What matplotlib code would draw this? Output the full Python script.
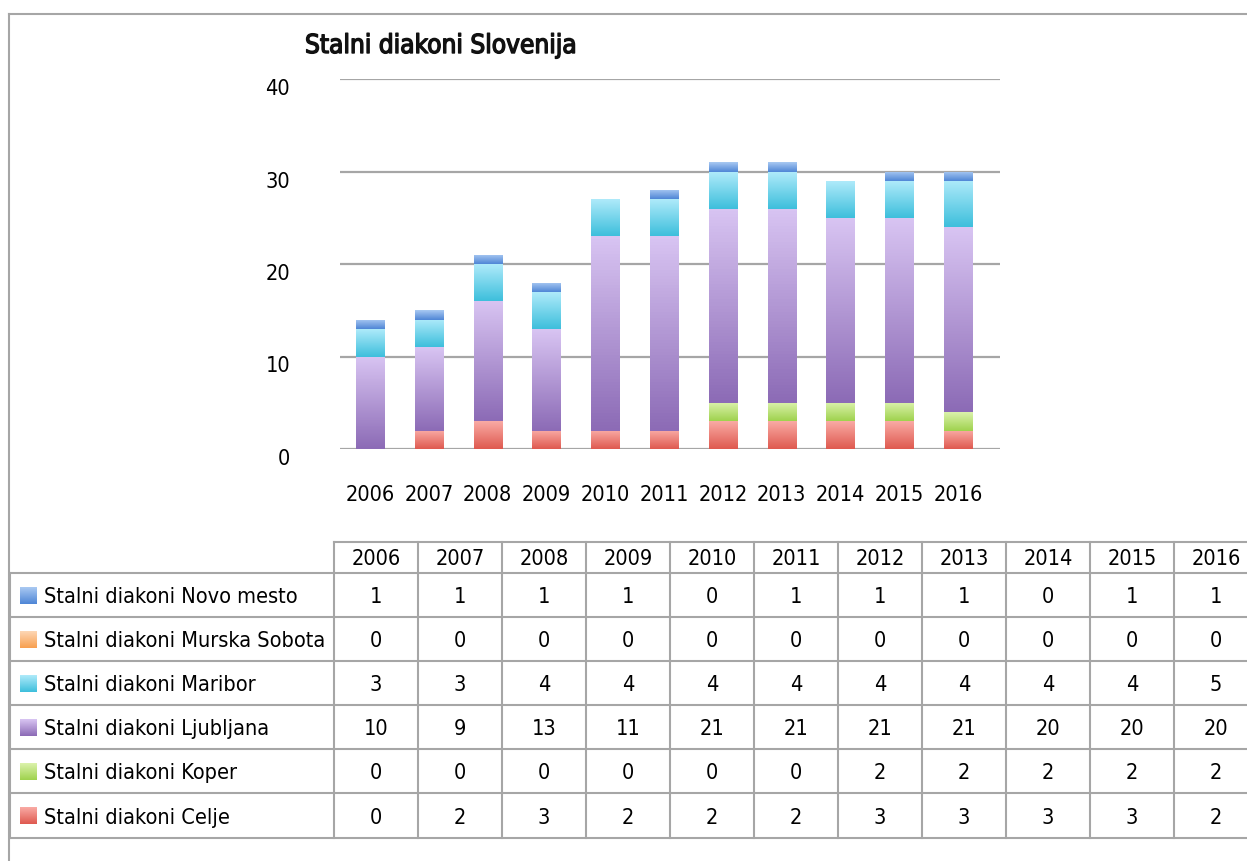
import numpy as np
import matplotlib
matplotlib.use("Agg")
import matplotlib.pyplot as plt
import matplotlib.patheffects as pe
from matplotlib import font_manager
from matplotlib.font_manager import FontProperties
from matplotlib.colors import LinearSegmentedColormap
from matplotlib.transforms import ScaledTranslation
from matplotlib.textpath import TextPath

# ---- data ----
title = "Stalni diakoni Slovenija"
years = ["2006", "2007", "2008", "2009", "2010", "2011", "2012", "2013", "2014", "2015", "2016"]
celje = [0, 2, 3, 2, 2, 2, 3, 3, 3, 3, 2]
koper = [0, 0, 0, 0, 0, 0, 2, 2, 2, 2, 2]
ljubljana = [10, 9, 13, 11, 21, 21, 21, 21, 20, 20, 20]
maribor = [3, 3, 4, 4, 4, 4, 4, 4, 4, 4, 5]
murska_sobota = [0, 0, 0, 0, 0, 0, 0, 0, 0, 0, 0]
novo_mesto = [1, 1, 1, 1, 0, 1, 1, 1, 0, 1, 1]

# stacking order bottom -> top
series_names = [
    "Stalni diakoni Celje",
    "Stalni diakoni Koper",
    "Stalni diakoni Ljubljana",
    "Stalni diakoni Maribor",
    "Stalni diakoni Murska Sobota",
    "Stalni diakoni Novo mesto",
]
series_values = [celje, koper, ljubljana, maribor, murska_sobota, novo_mesto]
# (dark bottom, light top)
series_colors = [
    ("#df5a50", "#f9aaa4"),
    ("#9fd24e", "#dbf2ab"),
    ("#8c6bb6", "#d8c4f2"),
    ("#3ebfdc", "#aeeafa"),
    ("#f8a050", "#fdd6b4"),
    ("#4f86d6", "#a9c9f2"),
]


def _weight(f):
    return f.weight if isinstance(f.weight, int) else font_manager.weight_dict.get(f.weight, 400)


def _stretch(f):
    return f.stretch if isinstance(f.stretch, int) else font_manager.stretch_dict.get(f.stretch, 500)


def _is_narrow(f):
    return _stretch(f) < 500 or "Condensed" in f.name or "Narrow" in f.name


def _pick_font(weight_target, stretch_target):
    cands = [f for f in font_manager.fontManager.ttflist
             if _is_narrow(f) and f.style == "normal" and f.fname.lower().endswith((".ttf", ".otf"))]
    if not cands:
        return None
    cands.sort(key=lambda f: abs(_weight(f) - weight_target) + abs(_stretch(f) - stretch_target))
    return cands[0].fname


reg_path = _pick_font(400, 300)


def fprop(path, size):
    if path:
        return FontProperties(fname=path, size=size)
    return FontProperties(family="DejaVu Sans", size=size)


def fit_size(path, text, width_px):
    # font size (pt) that makes text about width_px wide at 100 dpi
    tp = TextPath((0, 0), text, prop=fprop(path, 100))
    w = tp.get_extents().width * 100 / 72.0
    return 100 * width_px / w


body_size = min(fit_size(reg_path, "Stalni diakoni Murska Sobota", 278), 19)
title_size = min(fit_size(reg_path, title, 268), 22)
body = fprop(reg_path, body_size)
title_fp = fprop(reg_path, title_size)

W, H = 1247, 862
fig = plt.figure(figsize=(W / 100, H / 100), dpi=100)
fig.patch.set_facecolor("white")

# ---- chart area ----
ax = fig.add_axes([340 / W, 1 - 450 / H, 660 / W, 370 / H])
x = np.arange(len(years))
bottom = np.zeros(len(years))
for name, vals, (dark, light) in zip(series_names, series_values, series_colors):
    vals = np.array(vals, dtype=float)
    bars = ax.bar(x, vals, width=0.48, bottom=bottom, color=light, edgecolor="none", zorder=3)
    cmap = LinearSegmentedColormap.from_list(name, [dark, light])
    grad = np.linspace(0, 1, 64).reshape(-1, 1)
    for rect, v in zip(bars, vals):
        if v <= 0:
            continue
        x0, y0 = rect.get_x(), rect.get_y()
        im = ax.imshow(grad, extent=[x0, x0 + rect.get_width(), y0, y0 + rect.get_height()],
                       origin="lower", cmap=cmap, aspect="auto", zorder=4)
        im.set_clip_path(rect)
    bottom += vals

ax.set_xlim(-0.51, 10.71)
ax.set_ylim(0, 40)
ax.set_yticks([0, 10, 20, 30, 40])
ax.set_xticks(x)
ax.set_xticklabels(years)
ax.yaxis.grid(True, color="#a6a6a6", linewidth=1.6, zorder=0)
ax.set_axisbelow(True)
for s in ax.spines.values():
    s.set_visible(False)
ax.tick_params(axis="both", length=0)
ax.tick_params(axis="y", pad=36)
ax.tick_params(axis="x", pad=25)
off = ScaledTranslation(0, -0.07, fig.dpi_scale_trans)
for lab in ax.get_yticklabels():
    lab.set_fontproperties(body)
    lab.set_transform(lab.get_transform() + off)
for lab in ax.get_xticklabels():
    lab.set_fontproperties(body)

# ---- overlay in pixel coordinates: frame, title, data table ----
ov = fig.add_axes([0, 0, 1, 1], zorder=5)
ov.axis("off")
ov.patch.set_alpha(0)

line_c = "#a6a6a6"
ov.plot([9, W], [15, 15], color=line_c, lw=1.5)
ov.plot([9, 9], [15, H], color=line_c, lw=1.5)

ov.text(305, 47, title, fontproperties=title_fp, ha="left", va="center", color="#111111",
        path_effects=[pe.withStroke(linewidth=1.0, foreground="#111111")])

col0, col_w = 334, 84
head_top, head_bot, row_h = 543, 574, 44.1
n_cols = len(years)
n_rows = len(series_names)
table_bot = head_bot + n_rows * row_h

# header row
ov.plot([col0, W], [head_top, head_top], color=line_c, lw=1.5)
for i, yr in enumerate(years):
    ov.text(col0 + col_w * (i + 0.5), (head_top + head_bot) / 2 + 1, yr,
            fontproperties=body, ha="center", va="center")
# horizontal lines
for r in range(n_rows + 1):
    yy = head_bot + r * row_h
    ov.plot([10, W], [yy, yy], color=line_c, lw=1.5)
# vertical lines
ov.plot([10, 10], [head_bot, table_bot], color=line_c, lw=1.5)
for i in range(n_cols + 1):
    xx = col0 + i * col_w
    ov.plot([xx, xx], [head_top, table_bot], color=line_c, lw=1.5)

# rows: top to bottom is reverse stacking order
for r, idx in enumerate(range(n_rows - 1, -1, -1)):
    yc = head_bot + (r + 0.5) * row_h
    dark, light = series_colors[idx]
    cmap = LinearSegmentedColormap.from_list("k%d" % idx, [dark, light])
    ov.imshow(np.linspace(0, 1, 32).reshape(-1, 1), extent=[20, 37, yc + 8.5, yc - 8.5],
              origin="lower", cmap=cmap, aspect="auto", zorder=3)
    ov.text(44, yc + 1, series_names[idx], fontproperties=body, ha="left", va="center")
    for i, v in enumerate(series_values[idx]):
        ov.text(col0 + col_w * (i + 0.5), yc + 1, str(v), fontproperties=body,
                ha="center", va="center")

ov.set_xlim(0, W)
ov.set_ylim(H, 0)

fig.savefig("out.png", dpi=100)
